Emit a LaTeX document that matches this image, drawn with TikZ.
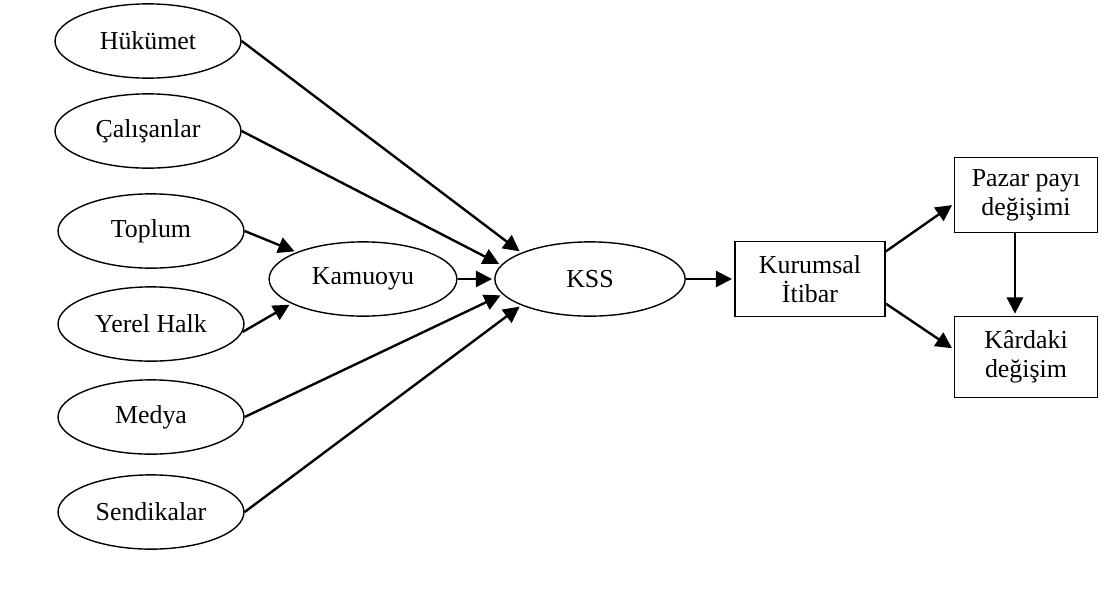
\documentclass[tikz,border=0pt]{standalone}
\usepackage{fontspec}
\setmainfont{Liberation Serif}
\usepackage{tikz}
\usetikzlibrary{positioning,shapes.geometric,arrows.meta}

\tikzset{
  actor/.style={ellipse, draw, line width=0.65pt, inner sep=0pt,
    minimum width=3.03cm, minimum height=1.21cm},
  outcome/.style={rectangle, draw, line width=0.65pt, inner sep=0pt,
    align=center, minimum width=2.33cm, minimum height=1.22cm},
  link/.style={line width=1.1pt, shorten >=1pt,
    -{Triangle[length=7.5pt, width=7.5pt]}}
}

\begin{document}
\begin{tikzpicture}[x=0.0163cm, y=-0.0163cm, font=\fontsize{12}{13.5}\selectfont]
      \useasboundingbox (0,0) rectangle (1105,593);
      % stakeholders
      \node[actor] (huk) at (148,41) {Hükümet};
      \node[actor] (cal) at (148,131) {Çalışanlar};
      \node[actor] (top) at (151,231) {Toplum};
      \node[actor] (yer) at (151,324) {Yerel Halk};
      \node[actor] (med) at (151,417) {Medya};
      \node[actor] (sen) at (151,512) {Sendikalar};
      \node[actor, minimum width=3.06cm] (kam) at (363,279) {Kamuoyu};
      \node[actor, minimum width=3.1cm] (kss) at (590,279) {KSS};
      % outcomes
      \node[outcome, minimum width=2.45cm] (kur) at (810,279) {Kurumsal\\İtibar};
      \node[outcome] (paz) at (1026,195) {Pazar payı\\değişimi};
      \node[outcome, minimum height=1.32cm] (kar) at (1026,357) {Kârdaki\\değişim};
      % arrows
      \draw[link] (top.east) -- (kam.158);
      \draw[link] (yer.-5) -- (kam.199);
      \draw[link] (huk.east) -- (kss.159);
      \draw[link] (cal.east) -- (kss.171);
      \draw[link] (kam.east) -- (kss.west);
      \draw[link] (med.east) -- (kss.190);
      \draw[link] (sen.east) -- (kss.201);
      \draw[link] (kss.east) -- (kur.west);
      \draw[link] (kur.20) -- (paz.187);
      \draw[link] (kur.-18) -- (kar.174);
      \draw[link] ([xshift=-0.18cm]paz.south) -- ([xshift=-0.18cm]kar.north);
    \end{tikzpicture}
\end{document}
